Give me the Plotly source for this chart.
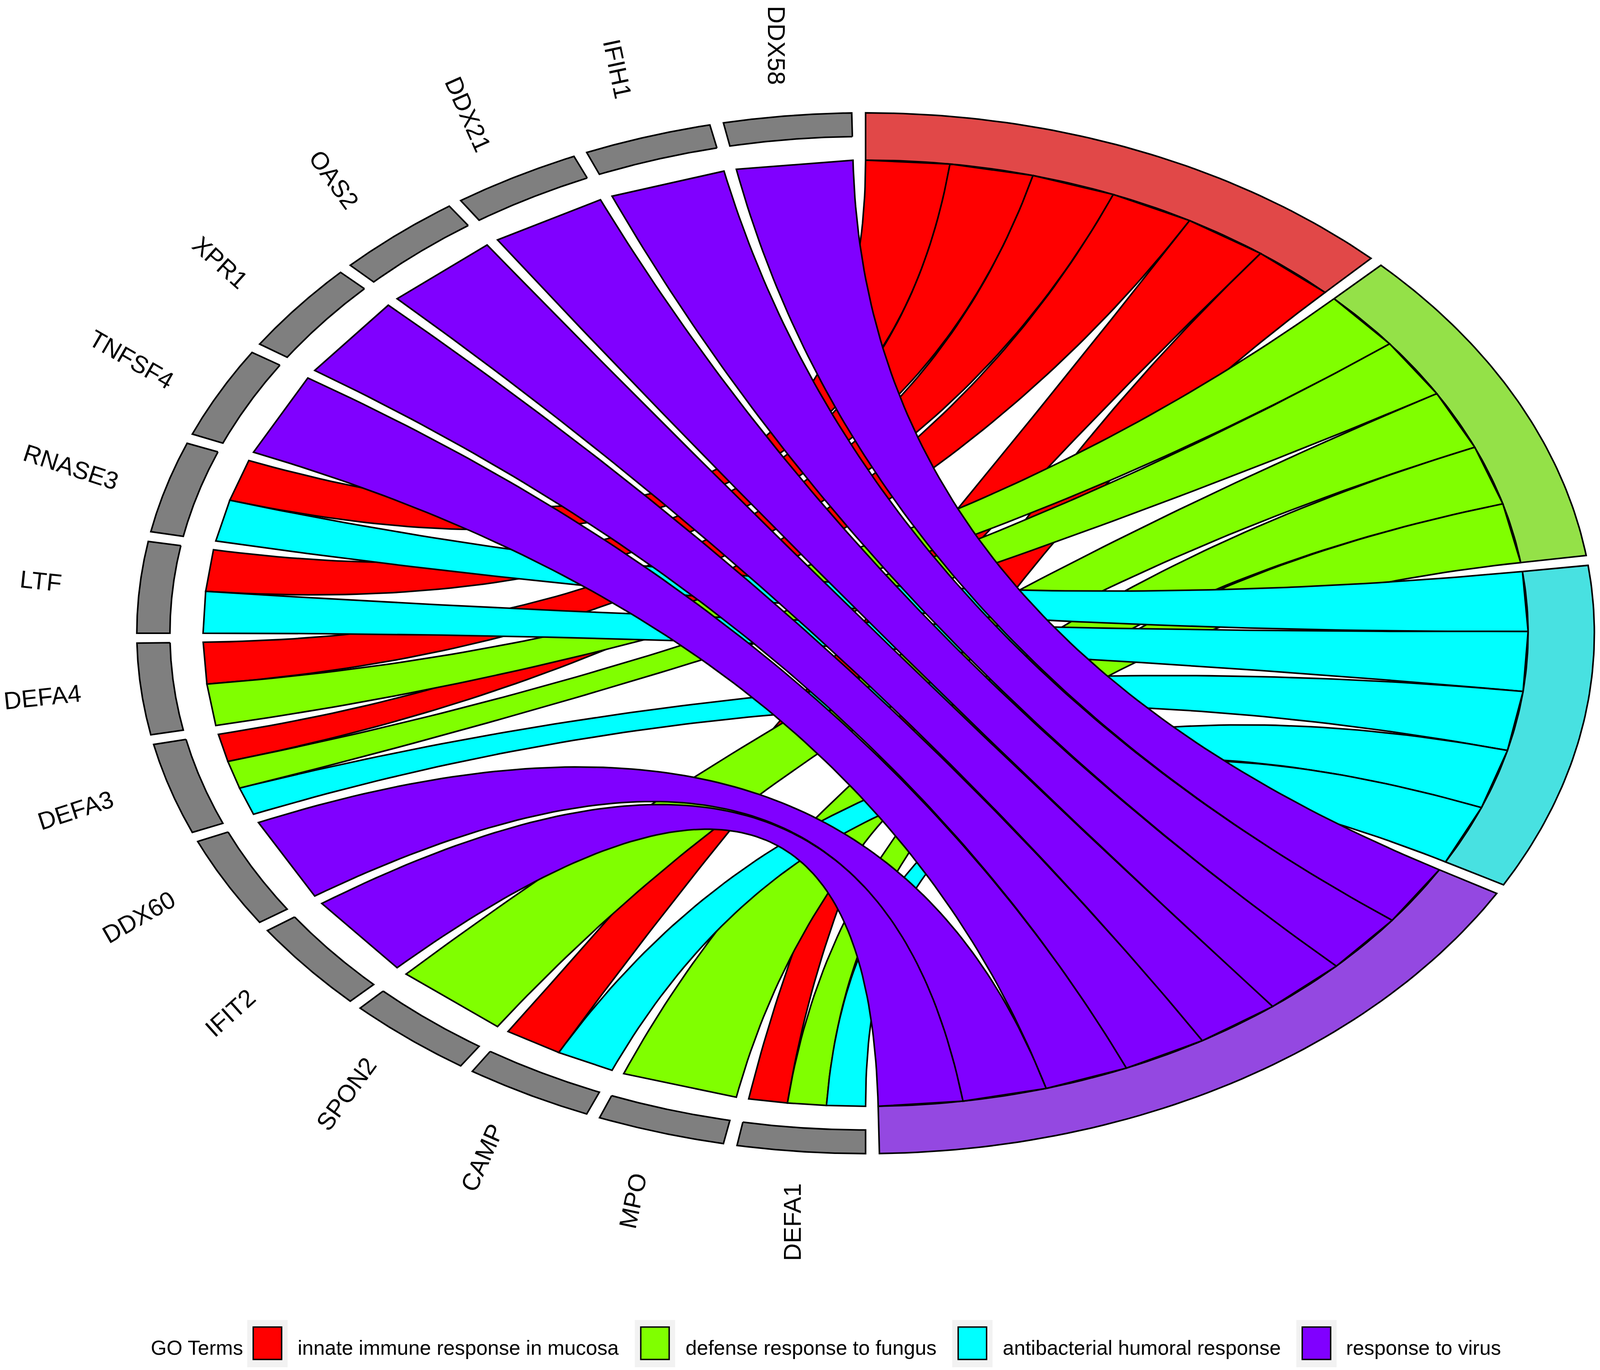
import numpy as np
import plotly.graph_objects as go

# ---------------- data ----------------
genes = ["DDX58", "IFIH1", "DDX21", "OAS2", "XPR1", "TNFSF4", "RNASE3", "LTF",
         "DEFA4", "DEFA3", "DDX60", "IFIT2", "SPON2", "CAMP", "MPO", "DEFA1"]
terms = ["innate immune response in mucosa", "defense response to fungus",
         "antibacterial humoral response", "response to virus"]
# gene membership per GO term (1 = gene annotated to term), in gene order
mucosa        = [0, 0, 0, 0, 0, 0, 1, 1, 1, 1, 0, 0, 0, 1, 0, 1]
fungus        = [0, 0, 0, 0, 0, 0, 0, 0, 1, 1, 0, 0, 1, 0, 1, 1]
antibacterial = [0, 0, 0, 0, 0, 0, 1, 1, 0, 1, 0, 0, 0, 1, 0, 1]
virus         = [1, 1, 1, 1, 1, 1, 0, 0, 0, 0, 1, 1, 0, 0, 0, 0]
ribbon_colors = ["#FF0000", "#80FF00", "#00FFFF", "#8000FF"]

# ---------------- style / layout constants ----------------
W, H = 4562, 3507
CX, CY = 2468.0, 1621.0      # pixel position of circle centre
SX, SY = 1889.0, 1211.0      # pixels per unit radius (x, y)
SPACE = 0.019
R1, R2, RG = 1.0, 1.1, 1.05
LABEL_R = 1.25
LW = 4.5
FONT = "Liberation Sans, Arial, sans-serif"

mat = np.array([mucosa, fungus, antibacterial, virus]).T  # genes x terms
ngenes, nterms = mat.shape
nrib = mat.sum(axis=0)
ngen = mat.sum(axis=1)


def blend(hexcol, alpha=0.6, bg=(179, 179, 179)):
    h = hexcol.lstrip("#")
    rgb = [int(h[i:i + 2], 16) for i in (0, 2, 4)]
    out = [round(alpha * c + (1 - alpha) * b) for c, b in zip(rgb, bg)]
    return "rgb(%d,%d,%d)" % tuple(out)


def band(t0, t1, ra, rb, n=60):
    th = np.linspace(t0, t1, n)
    xs = np.concatenate([np.sin(th) * ra, np.sin(th[::-1]) * rb, [np.sin(t0) * ra]])
    ys = np.concatenate([np.cos(th) * ra, np.cos(th[::-1]) * rb, [np.cos(t0) * ra]])
    return xs, ys


fig = go.Figure()

# ---- term (process) arcs on the right ----
tstart = [0.0]
for r in nrib:
    tstart.append(tstart[-1] + np.pi * r / nrib.sum())
tmax = [np.pi * r / nrib.sum() - SPACE for r in nrib]
for k in range(nterms):
    xs, ys = band(tstart[k], tstart[k] + tmax[k], R1, R2)
    fig.add_trace(go.Scatter(x=xs, y=ys, mode="lines", fill="toself",
                             fillcolor=blend(ribbon_colors[k]),
                             line=dict(color="black", width=LW),
                             hoverinfo="skip", showlegend=False))

# ---- gene positions ----
gstart = [-SPACE - s * np.pi / ngenes for s in range(ngenes)]
gmax = -np.pi / ngenes + SPACE

# ---- ribbons (quadratic bezier via the centre) ----
tt = np.linspace(0, 1, 101)
for k in range(nterms):
    tvals = np.linspace(tstart[k], tstart[k] + tmax[k], nrib[k] + 1)
    members = [g for g in range(ngenes) if mat[g, k] == 1]
    for slot, g in enumerate(members):
        gvals = np.linspace(gstart[g], gstart[g] + gmax, ngen[g] + 1)
        j = list(np.where(mat[g] == 1)[0]).index(k)
        sa, sb = tvals[slot], tvals[slot + 1]
        ea, eb = gvals[j], gvals[j + 1]
        x1 = (1 - tt) ** 2 * np.sin(sa) + tt ** 2 * np.sin(ea)
        y1 = (1 - tt) ** 2 * np.cos(sa) + tt ** 2 * np.cos(ea)
        x2 = (1 - tt) ** 2 * np.sin(sb) + tt ** 2 * np.sin(eb)
        y2 = (1 - tt) ** 2 * np.cos(sb) + tt ** 2 * np.cos(eb)
        xs = np.concatenate([x1, x2[::-1], x1[:1]])
        ys = np.concatenate([y1, y2[::-1], y1[:1]])
        fig.add_trace(go.Scatter(x=xs, y=ys, mode="lines", fill="toself",
                                 fillcolor=ribbon_colors[k],
                                 line=dict(color="black", width=LW),
                                 hoverinfo="skip", showlegend=False))

# ---- gene blocks ----
for g in range(ngenes):
    xs, ys = band(gstart[g], gstart[g] + gmax, RG, R2)
    fig.add_trace(go.Scatter(x=xs, y=ys, mode="lines", fill="toself",
                             fillcolor="#7F7F7F",
                             line=dict(color="black", width=LW),
                             hoverinfo="skip", showlegend=False))

# ---- gene labels ----
aseq = np.linspace(0, 180, ngenes)
annotations = []
for g in range(ngenes):
    th = gstart[g] + gmax / 2
    ang = aseq[g] + 270 if aseq[g] + 270 <= 360 else aseq[g] - 90
    annotations.append(dict(x=np.sin(th) * LABEL_R, y=np.cos(th) * LABEL_R,
                            xref="x", yref="y", text=genes[g], showarrow=False,
                            textangle=-ang, xanchor="center", yanchor="middle",
                            font=dict(family=FONT, size=70, color="black")))

# ---- legend (drawn manually, ggplot style) ----
shapes = []
key_x = [722, 1827, 2732, 3713]
lab_x = [847, 1952, 2857, 3836]
key_w = 81
key_y0, key_y1 = 3397, 3480
for k in range(nterms):
    shapes.append(dict(type="rect", xref="paper", yref="paper",
                       x0=(key_x[k] - 17) / W, x1=(key_x[k] + key_w + 17) / W,
                       y0=1 - 3500 / H, y1=1 - 3379 / H,
                       fillcolor="#F2F2F2", line=dict(width=0), layer="above"))
    shapes.append(dict(type="rect", xref="paper", yref="paper",
                       x0=key_x[k] / W, x1=(key_x[k] + key_w) / W,
                       y0=1 - key_y1 / H, y1=1 - key_y0 / H,
                       fillcolor=ribbon_colors[k], line=dict(color="black", width=4),
                       layer="above"))
    annotations.append(dict(x=lab_x[k] / W, y=1 - 3450 / H, xref="paper", yref="paper",
                            text=terms[k], showarrow=False, xanchor="left",
                            yanchor="middle",
                            font=dict(family=FONT, size=58, color="black")))
annotations.append(dict(x=428 / W, y=1 - 3450 / H, xref="paper", yref="paper",
                        text="GO Terms", showarrow=False, xanchor="left",
                        yanchor="middle",
                        font=dict(family=FONT, size=58, color="black")))

fig.update_layout(
    width=W, height=H,
    margin=dict(l=0, r=0, t=0, b=0),
    paper_bgcolor="white", plot_bgcolor="white",
    xaxis=dict(range=[-CX / SX, (W - CX) / SX], visible=False, fixedrange=True),
    yaxis=dict(range=[(CY - H) / SY, CY / SY], visible=False, fixedrange=True),
    shapes=shapes, annotations=annotations, showlegend=False,
)

# fit the figure to the actual viewport, scaling fonts / line widths with it
post = """
var gd = document.getElementById('{plot_id}');
document.documentElement.style.margin = '0';
document.body.style.margin = '0';
document.body.style.overflow = 'hidden';
var vw = document.documentElement.clientWidth || window.innerWidth;
var vh = window.innerHeight || document.documentElement.clientHeight;
var s = vw / %d;
var upd = {width: vw, height: vh};
(gd.layout.annotations || []).forEach(function(a, i) {
  upd['annotations[' + i + '].font.size'] = a.font.size * s;
});
(gd.layout.shapes || []).forEach(function(sh, i) {
  if (sh.line && sh.line.width) { upd['shapes[' + i + '].line.width'] = sh.line.width * s; }
});
var lw = gd.data.map(function(t) { return t.line.width * s; });
Plotly.restyle(gd, {'line.width': lw}).then(function() { return Plotly.relayout(gd, upd); });
""" % W

fig.write_html("out.html", post_script=post, config={"displayModeBar": False})
